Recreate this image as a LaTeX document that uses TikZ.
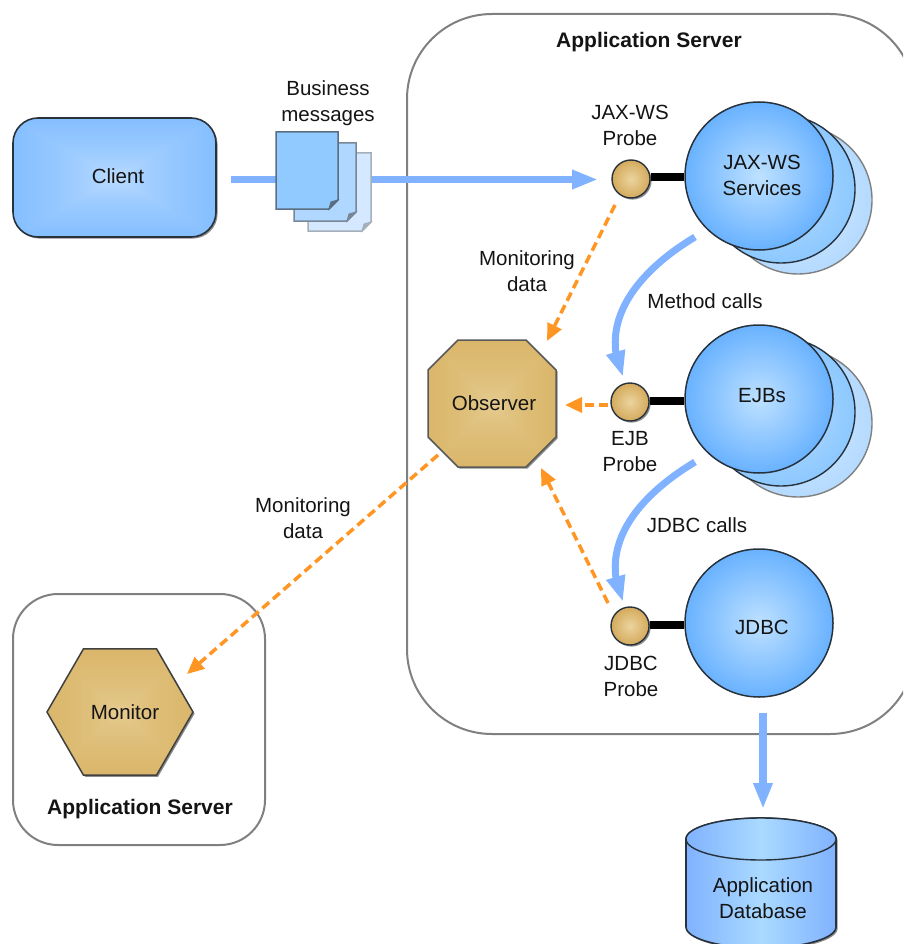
\documentclass[tikz,border=0pt]{standalone}
\usepackage{fontspec}
\setmainfont{Liberation Sans}
\usetikzlibrary{arrows.meta,bending,shapes.geometric,shadows,calc}
\definecolor{flow}{RGB}{128,178,255}
\definecolor{mon}{RGB}{255,150,35}
\definecolor{box}{RGB}{128,128,128}
\definecolor{ink}{RGB}{20,20,20}
\definecolor{edge}{RGB}{40,50,60}
\definecolor{pagea}{RGB}{145,202,255}
\definecolor{pageb}{RGB}{175,215,255}
\definecolor{pagec}{RGB}{212,232,255}
\definecolor{folda}{RGB}{90,110,130}
\definecolor{foldb}{RGB}{120,135,150}
\definecolor{foldc}{RGB}{165,175,185}
\pgfdeclarefunctionalshading{blueglow}{\pgfpointorigin}{\pgfpoint{100bp}{100bp}}{}{
  50 sub abs 50 div exch 50 sub abs 50 div
  2 copy lt {exch} if pop sqrt
  dup 0.38 mul 0.79 exch sub exch
  dup 0.20 mul 0.89 exch sub exch
  pop 1.0
}
\pgfdeclarefunctionalshading{goldglow}{\pgfpointorigin}{\pgfpoint{100bp}{100bp}}{}{
  50 sub abs 50 div exch 50 sub abs 50 div
  2 copy lt {exch} if pop sqrt
  dup 0.08 mul 0.91 exch sub exch
  dup 0.15 mul 0.82 exch sub exch
  0.26 mul 0.60 exch sub
}
\tikzset{
  every node/.style={font=\fontsize{20.5}{26}\selectfont, text=ink, align=center, inner sep=0pt},
  softshadow/.style={drop shadow={shadow xshift=1.6pt,shadow yshift=-1.6pt,opacity=.45,fill=black}},
  server/.style={draw=box,line width=2pt,rectangle,rounded corners=#1},
  title/.style={font=\fontsize{21}{26}\selectfont\bfseries},
  flowline/.style={draw=flow,line width=7.5pt,-{Triangle[length=26pt,width=18pt,fill=flow]}},
  monline/.style={draw=mon,line width=3.5pt,dash pattern=on 9pt off 5pt,-{Triangle[length=17pt,width=15pt,fill=mon]}},
  probe/.style={circle,minimum size=38pt,draw=edge,line width=1.4pt,inner color={rgb,255:red,235;green,212;blue,158},outer color={rgb,255:red,212;green,170;blue,92},softshadow},
  svcfront/.style={circle,minimum size=148pt,draw=edge,line width=1.5pt,inner color={rgb,255:red,190;green,225;blue,255},outer color={rgb,255:red,105;green,178;blue,255}},
  svcmid/.style={circle,minimum size=148pt,draw=edge,line width=1.4pt,inner color={rgb,255:red,185;green,222;blue,255},outer color={rgb,255:red,140;green,200;blue,255}},
  svcback/.style={circle,minimum size=148pt,draw=box,line width=1.4pt,inner color={rgb,255:red,215;green,235;blue,255},outer color={rgb,255:red,180;green,218;blue,255}},
  link/.style={draw=black,line width=8pt},
  client/.style={rectangle,rounded corners=25pt,minimum width=203pt,minimum height=119pt,draw=edge,line width=1.6pt,shading=blueglow,softshadow},
  observerfill/.style={draw=black!65,line width=1.5pt,shading=goldglow,softshadow},
  observerbox/.style={rectangle,minimum width=127pt,minimum height=127pt},
  monitorbox/.style={regular polygon,regular polygon sides=6,minimum size=146pt,draw=black!75,line width=1.5pt,shading=goldglow,softshadow},
  inlabel/.style={align=center},
}
\newcommand{\msgpage}[6]{%
  \filldraw[fill=#5,draw=#6,line width=1.5pt] (#1,#2) -- (#3,#2) -- (#3,#4-9) -- (#3-9,#4) -- (#1,#4) -- cycle;
  \filldraw[fill=#6,draw=#6,line width=1pt] (#3,#4-9) -- (#3-7,#4-7) -- (#3-9,#4) -- cycle;}
\begin{document}
\begin{tikzpicture}[x=1pt,y=-1pt]
\clip (0,0) rectangle (903,944);
% containers
\node[server=85pt,minimum width=508pt,minimum height=720pt] (appserver) at (661,374) {};
\node[server=45pt,minimum width=252pt,minimum height=251pt] (monserver) at (139,719.5) {};
\node[title] (appservertitle) at (649,42) {Application Server};
\node[title] (monservertitle) at (140,809) {Application Server};
% stacked components
\node[svcback] (jaxback) at (798,200) {};
\node[svcmid] (jaxmid) at (781,189) {};
\node[svcback] (ejbback) at (798,423) {};
\node[svcmid] (ejbmid) at (781,412) {};
% main nodes
\node[client,label={[xshift=3.5pt,yshift=1pt]center:Client}] (client) at (114.5,177.5) {};
\node[svcfront,label={[inlabel,xshift=3pt,yshift=1pt]center:JAX-WS\\Services}] (jaxsvc) at (759,176) {};
\node[svcfront,label={[xshift=3pt,yshift=3pt]center:EJBs}] (ejbs) at (759,399) {};
\node[svcfront,label={[xshift=3pt,yshift=-4pt]center:JDBC}] (jdbc) at (759,623) {};
\node[probe] (jaxprobe) at (631,179) {};
\node[probe] (ejbprobe) at (630,402) {};
\node[probe] (jdbcprobe) at (630,626) {};
\path[observerfill] (458,340) -- (526,340) -- (556,370) -- (556,437) -- (526,467) -- (458,467) -- (428,437) -- (428,370) -- cycle;
\node[observerbox] (observer) at (492,403.5) {\hspace{4pt}Observer};
\node[monitorbox,label={[xshift=5pt]center:Monitor}] (monitor) at (120,712) {};
% probe links
\draw[link] ([yshift=2pt]jaxprobe.east) -- ([yshift=2pt]jaxprobe.east -| jaxsvc.west);
\draw[link] ([yshift=1pt]ejbprobe.east) -- ([yshift=1pt]ejbprobe.east -| ejbs.west);
\draw[link] ([yshift=1pt]jdbcprobe.east) -- ([yshift=1pt]jdbcprobe.east -| jdbc.west);
% database
\path[left color=flow,right color=flow,middle color={rgb,255:red,170;green,218;blue,255},draw=edge,line width=1.6pt,softshadow]
  (686,839) -- (686,927) arc[start angle=180,end angle=360,x radius=75pt,y radius=21pt] -- (836,839) arc[start angle=0,end angle=180,x radius=75pt,y radius=21pt] -- cycle;
\path[left color=flow,right color=flow,middle color={rgb,255:red,170;green,218;blue,255},draw=edge,line width=1.4pt]
  (761,839) ellipse[x radius=75pt,y radius=21pt];
\node[minimum width=150pt,minimum height=130pt] (database) at (763,898) {Application\\Database};
% flow connectors
\draw[flowline] ([shift={(116.5,2)}]client.center) -- ([shift={(-33,0.5)}]jaxprobe.center);
\draw[flowline,line width=7pt] ([shift={(-64,61)}]jaxsvc.center) .. controls ([shift={(-119,94)}]jaxsvc.center) and ([shift={(-33,-82)}]ejbprobe.center) .. ([shift={(-7,-25)}]ejbprobe.center);
\draw[flowline,line width=7pt] ([shift={(-64,63)}]ejbs.center) .. controls ([shift={(-119,96)}]ejbs.center) and ([shift={(-33,-82)}]jdbcprobe.center) .. ([shift={(-7,-24)}]jdbcprobe.center);
\draw[flowline] ([shift={(4,90)}]jdbc.center) -- ([shift={(0,-89)}]database.center);
% messages
\msgpage{308}{153}{371}{231}{pagec}{foldc}
\msgpage{294}{143}{356}{221}{pageb}{foldb}
\msgpage{276}{132}{338}{209}{pagea}{folda}
\node (messages) at (328,103.5) {Business\\messages};
% monitoring connectors
\draw[monline] ([shift={(-16,26)}]jaxprobe.center) -- ([shift={(55,-62.5)}]observer.center);
\draw[monline] ([shift={(-22,3)}]ejbprobe.center) -- ([shift={(73,1.5)}]observer.center);
\draw[monline] ([shift={(-22,-23)}]jdbcprobe.center) -- ([shift={(49,64.5)}]observer.center);
\draw[monline] ([shift={(-54,51.5)}]observer.center) -- ([shift={(67,-38)}]monitor.center);
% labels
\node (jaxprobelabel) at (630,125) {JAX-WS\\Probe};
\node (ejbprobelabel) at (630,452) {EJB\\Probe};
\node (jdbcprobelabel) at (631,676) {JDBC\\Probe};
\node (monlabela) at (527,271) {Monitoring\\data};
\node (monlabelb) at (303,518.5) {Monitoring\\data};
\node (methodcalls) at (705,301) {Method calls};
\node (jdbccalls) at (697,525) {JDBC calls};
\end{tikzpicture}
\end{document}
